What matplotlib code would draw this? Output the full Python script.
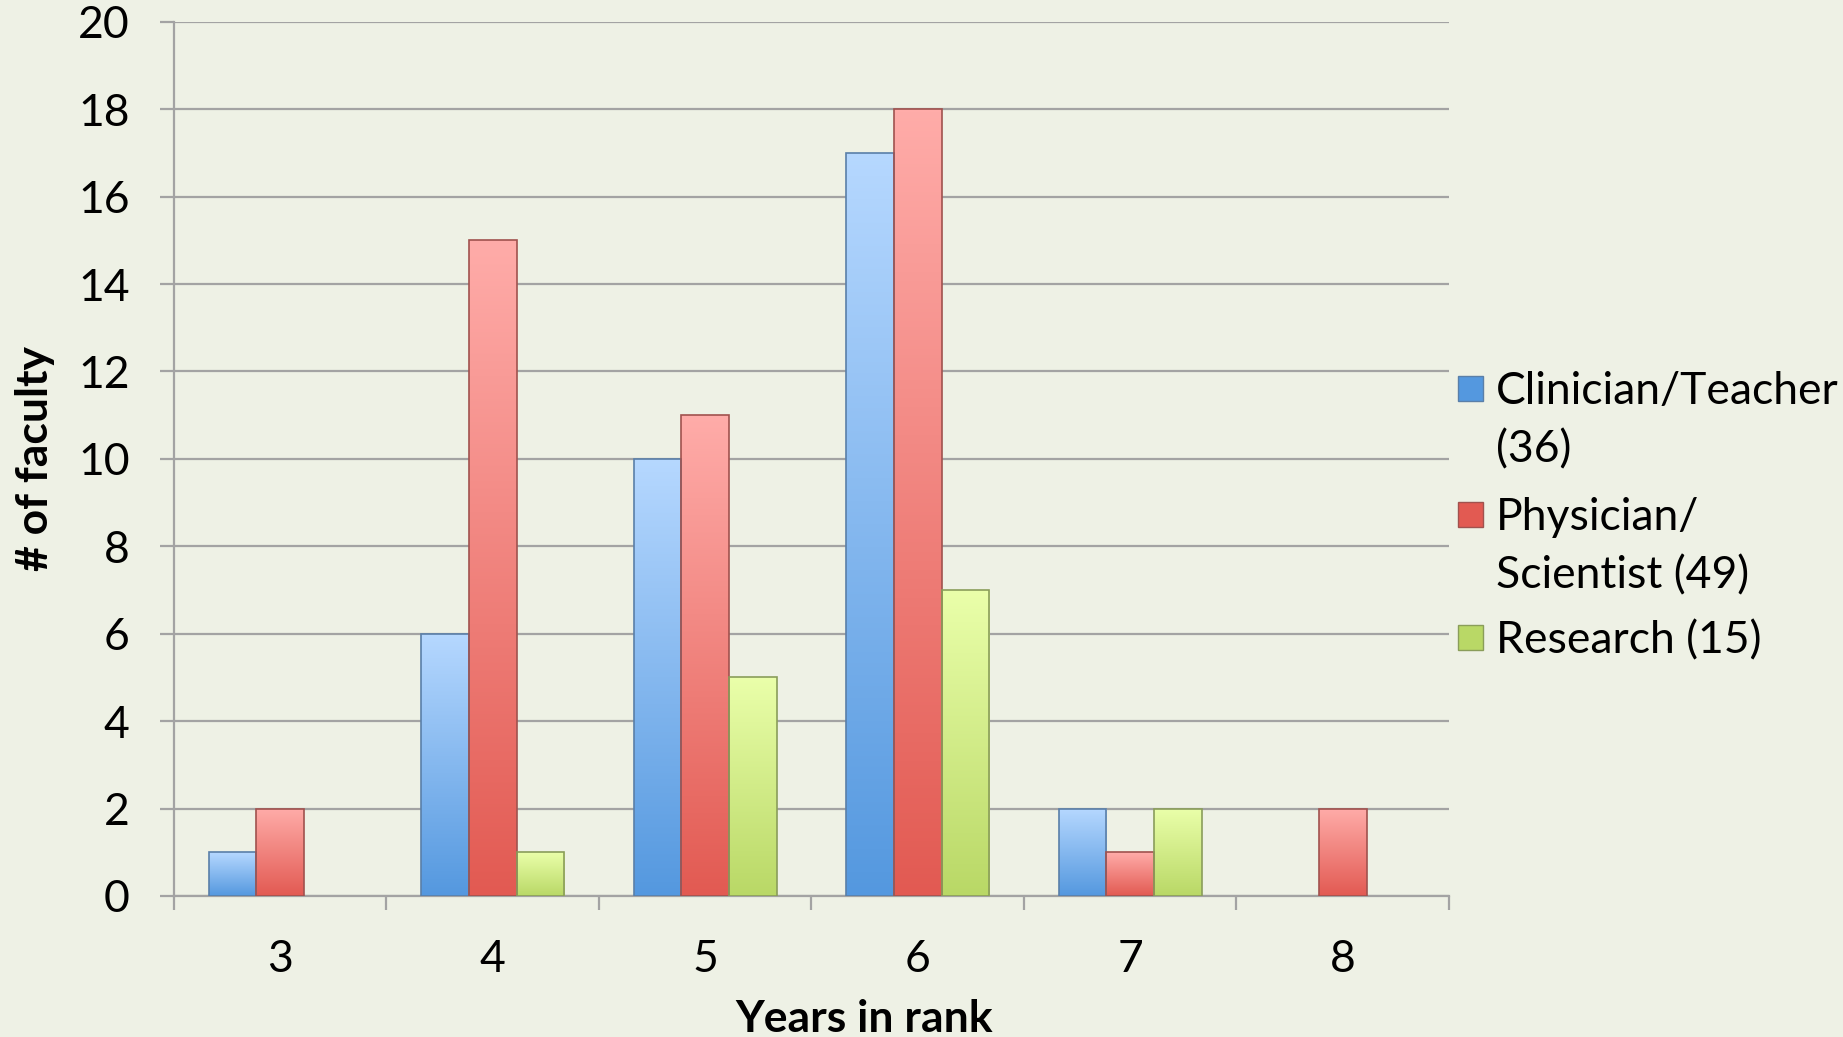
import numpy as np
import matplotlib.pyplot as plt
from matplotlib.colors import LinearSegmentedColormap
from matplotlib.patches import Rectangle

plt.rcParams['font.family'] = ['Lato', 'DejaVu Sans']

# data
years = ['3', '4', '5', '6', '7', '8']
clinician = [1, 6, 10, 17, 2, 0]
physician = [2, 15, 11, 18, 1, 2]
research = [0, 1, 5, 7, 2, 0]
series_names = ['Clinician/Teacher\n(36)', 'Physician/\nScientist (49)', 'Research (15)']

bg = '#EEF1E5'
grid_c = '#A3A3A3'
fs = 32
# (top colour, bottom colour, edge)
styles = [('#B6D8FF', '#5498DF', '#5A7FA8'),
          ('#FFACA9', '#E25A52', '#A0524E'),
          ('#EAFFAA', '#B9D866', '#8A9D5A')]

fig = plt.figure(figsize=(18.43, 10.37), dpi=100, facecolor=bg)
ax = fig.add_axes([0.0944, 0.136, 0.6918, 0.843], facecolor=bg)

x = np.arange(len(years))
w = 0.224
grad = np.linspace(0, 1, 256).reshape(-1, 1)

for i, vals in enumerate([clinician, physician, research]):
    top_c, bot_c, edge_c = styles[i]
    cmap = LinearSegmentedColormap.from_list('g%d' % i, [bot_c, top_c])
    bars = ax.bar(x + (i - 1) * w, vals, width=w, facecolor='none',
                  edgecolor=edge_c, linewidth=1.2, zorder=4)
    for p in bars:
        if p.get_height() <= 0:
            p.set_visible(False)
            continue
        x0, h = p.get_x(), p.get_height()
        im = ax.imshow(grad, extent=[x0, x0 + w, 0, h], origin='lower',
                       aspect='auto', cmap=cmap, zorder=3)
        im.set_clip_path(p)

ax.set_xlim(-0.5, len(years) - 0.5)
ax.set_ylim(0, 20)
ax.set_yticks(range(0, 21, 2))
ax.set_xticks(x)
ax.set_xticklabels(years)
ax.set_xticks(np.arange(-0.5, len(years)), minor=True)

ax.grid(axis='y', color=grid_c, linewidth=1.6, zorder=1)
ax.set_axisbelow(True)
for s in ['top', 'right']:
    ax.spines[s].set_visible(False)
for s in ['left', 'bottom']:
    ax.spines[s].set_color(grid_c)
    ax.spines[s].set_linewidth(1.6)

ax.tick_params(axis='y', length=10, width=1.6, color=grid_c, pad=22, labelsize=fs)
ax.tick_params(axis='x', which='major', length=0, pad=31, labelsize=fs)
ax.tick_params(axis='x', which='minor', length=10, width=1.6, color=grid_c)

ax.set_ylabel('# of faculty', fontsize=fs, fontweight='bold')
ax.yaxis.set_label_coords(-0.093, 0.5)
ax.set_xlabel('Years in rank', fontsize=fs, fontweight='bold')
ax.xaxis.set_label_coords(0.541, -0.118)

# legend, drawn by hand so the square sits on the first line
leg_y = [389, 515, 638]
for i, name in enumerate(series_names):
    top_c, bot_c, edge_c = styles[i]
    yc = 1 - leg_y[i] / 1037
    fig.patches.append(Rectangle((1458 / 1843, yc - 12 / 1037), 25 / 1843, 25 / 1037,
                                 transform=fig.transFigure, facecolor=bot_c,
                                 edgecolor=edge_c, linewidth=1))
    fig.text(1496 / 1843, yc + 18 / 1037, name, fontsize=fs, va='top', ha='left',
             linespacing=1.53)

fig.savefig('out.png', dpi=100, facecolor=bg)
